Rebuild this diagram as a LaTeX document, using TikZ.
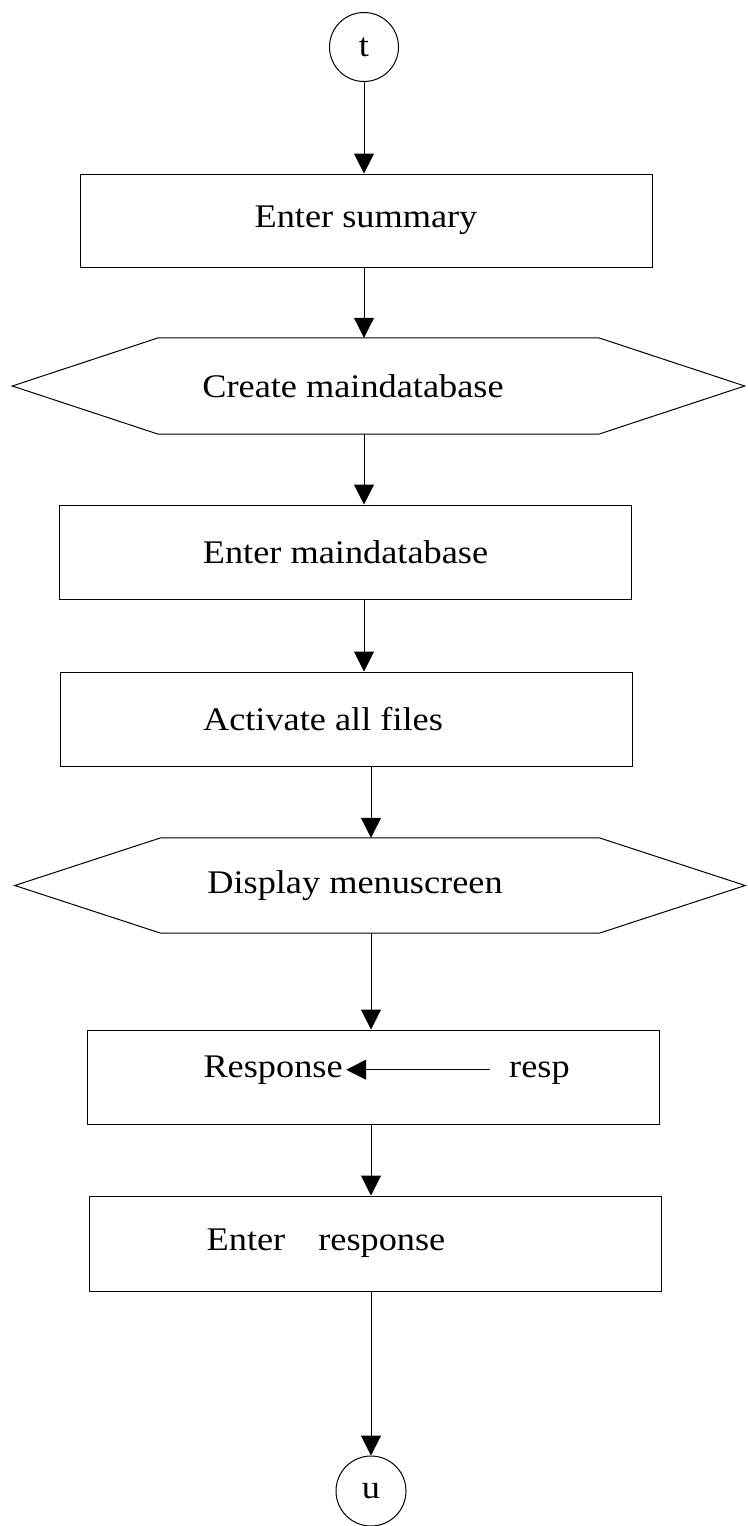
\documentclass[tikz,border=0pt]{standalone}
\usepackage{fontspec}
\setmainfont{Liberation Serif}[FakeStretch=1.1]
\usetikzlibrary{arrows.meta,positioning}

\begin{document}
\begin{tikzpicture}[
    x=1pt, y=-1pt,
    font=\fontsize{33}{40}\selectfont,
    box/.style={rectangle, draw, line width=1pt, inner sep=0pt,
                minimum width=572pt, minimum height=94pt},
    hexa/.style={inner sep=0pt, minimum width=732pt, minimum height=96pt},
    conn/.style={circle, draw, line width=1pt, inner sep=0pt,
                 minimum size=69pt},
    arrow/.style={-{Triangle[length=20pt, width=20pt]}, line width=1pt}
]
\useasboundingbox (0,0) rectangle (747,1526);

% Entry connector
\node[conn] (t) at (364, 47) {t};

% Summary
\node[box, minimum height=93pt] (sum) at (366, 220.5) {Enter summary};

% Main database
\node[hexa] (cmdb) at (378.5, 386) {Create maindatabase\hspace*{51pt}};
\node[box] (emdb) at (345.5, 552) {Enter maindatabase};
\node[box] (act) at (346, 719) {Activate all files\hspace*{46pt}};

% Menu
\node[hexa, minimum width=730pt, minimum height=95pt] (menu) at (380, 885.5)
    {\raisebox{-12pt}{Display menuscreen}\hspace*{50pt}};

\foreach \h in {cmdb, menu}
    \draw[line width=1pt] (\h.west) -- ([xshift=146pt]\h.north west)
        -- ([xshift=-146pt]\h.north east) -- (\h.east)
        -- ([xshift=-146pt]\h.south east) -- ([xshift=146pt]\h.south west)
        -- cycle;

% Response
\node[box] (rbox) at (373.5, 1077) {};
\node[anchor=base west] (rsp) at (200, 1077) {Response};
\node[anchor=base west, inner xsep=19pt] (rvar) at (490, 1077) {resp};
\draw[arrow] (rsp.east -| rvar.west) -- (rsp.east);

\node[box, minimum height=95pt] (eresp) at (375, 1243.5)
    {\raisebox{6pt}{Enter\quad response}\hspace*{98pt}};

% Exit connector
\node[conn, minimum size=70pt] (u) at (371, 1491) {u};

% Flow
\draw[arrow] (t) -- (t |- sum.north);
\draw[arrow] (sum.south -| t) -- (cmdb.north -| t);
\draw[arrow] (cmdb.south -| t) -- (emdb.north -| t);
\draw[arrow] (emdb.south -| t) -- (act.north -| t);
\draw[arrow] (act.south -| u) -- (menu.north -| u);
\draw[arrow] (menu.south -| u) -- (rbox.north -| u);
\draw[arrow] (rbox.south -| u) -- (eresp.north -| u);
\draw[arrow] (eresp.south -| u) -- (u);

\end{tikzpicture}
\end{document}
